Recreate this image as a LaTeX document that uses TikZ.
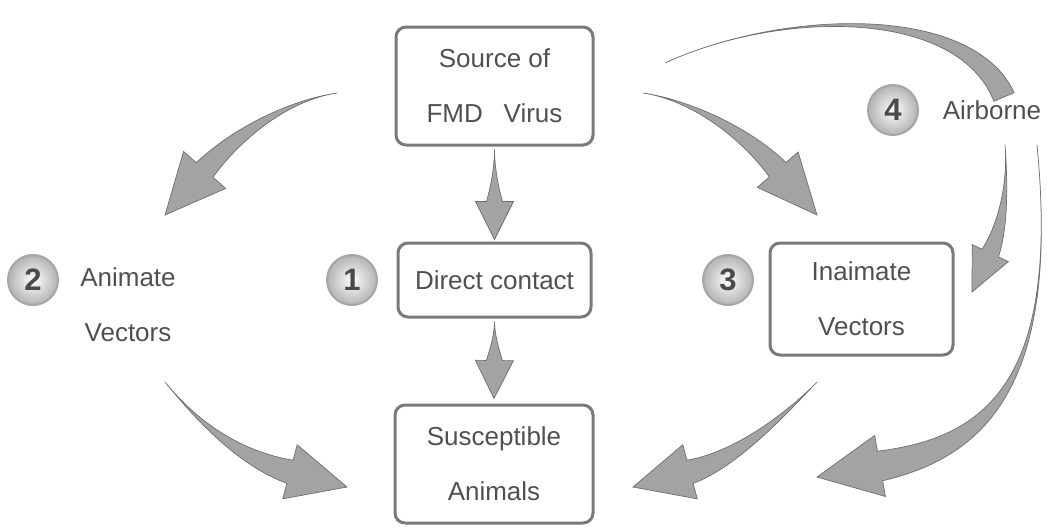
\documentclass[tikz,border=0pt]{standalone}
\usepackage{fontspec}
\setmainfont{Liberation Sans}
\usetikzlibrary{calc}
\definecolor{txt}{HTML}{505050}
\definecolor{boxc}{HTML}{7A7A7A}
\definecolor{arrf}{HTML}{A3A3A3}
\definecolor{arre}{HTML}{6E6E6E}
\definecolor{numc}{HTML}{4A4A4A}
\newcommand\taper[8]{% #1 tail, #2 c1, #3 c2, #4 tip, #5 head length, #6 shaft half width, #7 head half width, #8 prefix
  \coordinate (#8E) at ($(#4)!#5!(#3)$);
  \coordinate (#8EL) at ($(#8E)!#6!90:(#3)$);
  \coordinate (#8ER) at ($(#8E)!#6!-90:(#3)$);
  \coordinate (#8HL) at ($(#8E)!#7!90:(#3)$);
  \coordinate (#8HR) at ($(#8E)!#7!-90:(#3)$);
  \coordinate (#8CL) at ($(#3)!0.6*#6!-90:(#8E)$);
  \coordinate (#8CR) at ($(#3)!0.6*#6!90:(#8E)$);
  \fill[arr] (#1) .. controls (#2) and (#8CL) .. (#8EL) -- (#8HL) -- (#4) -- (#8HR) -- (#8ER) .. controls (#8CR) and (#2) .. (#1) -- cycle;
}
\begin{document}
\begin{tikzpicture}[x=1pt,y=-1pt,
  every node/.style={font=\fontsize{26}{55}\selectfont, text=txt},
  box/.style={draw=boxc, line width=3pt, rounded corners=10pt, align=center, inner sep=0pt},
  num/.style={circle, minimum size=50pt, inner sep=0pt, draw=gray!70, line width=2pt,
    inner color=white, outer color=gray!60, font=\bfseries\fontsize{31}{31}\selectfont, text=numc},
  lbl/.style={align=center},
  arr/.style={fill=arrf, draw=arre, line width=0.7pt}]
\useasboundingbox (0,0) rectangle (1047,528);

% boxes
\node[box, minimum width=197pt, minimum height=118pt] (src) at (494.5,86) {Source of\\FMD\hspace{0.8em}Virus};
\node[box, minimum width=193pt, minimum height=74pt] (dc) at (494.5,280) {Direct contact};
\node[box, minimum width=198pt, minimum height=118pt] (sus) at (494,464) {Susceptible\\Animals};
\node[box, minimum width=183pt, minimum height=112pt] (inv) at (861.5,299) {Inaimate\\Vectors};

% labels
\node[lbl] (anv) at (128,305) {Animate\\Vectors};
\node (air) at (992,110) {Airborne};

% numbered circles
\node[num] (n1) at (352,280) {1};
\node[num] (n2) at (33,280) {2};
\node[num] (n3) at (728,280) {3};
\node[num] (n4) at (893,110) {4};

% arrow end points
\coordinate (aT) at (337,93);  \coordinate (a1) at (290,100);  \coordinate (a2) at (238,132);  \coordinate (aP) at (165,215);
\coordinate (bT) at (165,382); \coordinate (b1) at (200,425);  \coordinate (b2) at (242,459);  \coordinate (bP) at (347,487);
\coordinate (cT) at (643,93);  \coordinate (c1) at (690,100);  \coordinate (c2) at (745,132);  \coordinate (cP) at (817,215);
\coordinate (eT) at (1005,145); \coordinate (e1) at (1008,185); \coordinate (e2) at (1003,226); \coordinate (eP) at (972,292);
\coordinate (fT) at (1037,145); \coordinate (f1) at (1060,380); \coordinate (f2) at (988,447);  \coordinate (fP) at (817,477);
\coordinate (gT) at (817,382); \coordinate (g1) at (790,410);  \coordinate (g2) at (738,459);  \coordinate (gP) at (633,487);
\coordinate (hT) at ($(src.south)+(0,3)$); \coordinate (h1) at (494.5,170); \coordinate (h2) at (494.5,190); \coordinate (hP) at ($(dc.north)+(0,-2)$);
\coordinate (kT) at ($(dc.south)+(0,3)$);  \coordinate (k1) at (494.5,335); \coordinate (k2) at (494.5,350); \coordinate (kP) at ($(sus.north)+(0,-5)$);

\taper{aT}{a1}{a2}{aP}{60pt}{11pt}{28pt}{a}
\taper{bT}{b1}{b2}{bP}{59pt}{12pt}{28pt}{b}
\taper{cT}{c1}{c2}{cP}{60pt}{11pt}{27pt}{c}
\taper{eT}{e1}{e2}{eP}{43pt}{9pt}{20pt}{e}
\taper{fT}{f1}{f2}{fP}{64pt}{15pt}{31pt}{f}
\taper{gT}{g1}{g2}{gP}{59pt}{12pt}{28pt}{g}
\taper{hT}{h1}{h2}{hP}{38pt}{8pt}{19pt}{h}
\taper{kT}{k1}{k2}{kP}{38pt}{8pt}{19pt}{k}

% airborne arc (blunt end)
\coordinate (dT) at (665,63); \coordinate (d1) at (780,10); \coordinate (d2) at (965,5); \coordinate (dP) at (1004,97);
\coordinate (dEL) at ($(dP)!11pt!90:(d2)$);
\coordinate (dER) at ($(dP)!11pt!-90:(d2)$);
\coordinate (dCL) at ($(d2)!8pt!-90:(dP)$);
\coordinate (dCR) at ($(d2)!8pt!90:(dP)$);
\fill[arr] (dT) .. controls (d1) and (dCL) .. (dEL) -- (dER) .. controls (dCR) and (d1) .. (dT) -- cycle;
\end{tikzpicture}
\end{document}
